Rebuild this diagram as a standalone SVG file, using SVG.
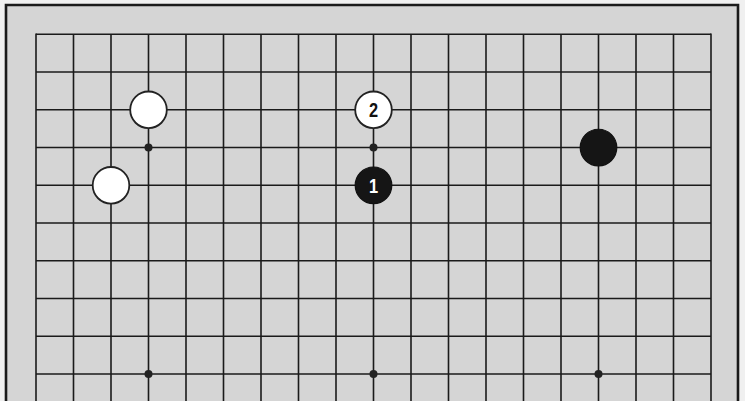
<svg xmlns="http://www.w3.org/2000/svg" width="745" height="401" viewBox="0 0 745 401">
<style>
.grid line{stroke:#1a1a1a;stroke-width:1.6}
.frame{fill:#d5d5d5;stroke:#1a1a1a;stroke-width:2.6}
.star{fill:#222}
.w{fill:#fff;stroke:#222;stroke-width:1.8}
.b{fill:#151515;stroke:#111;stroke-width:1.2}
.num{font-family:"Liberation Sans",Arial,sans-serif;font-weight:bold;font-size:20px;text-anchor:middle}
</style>
<rect x="0" y="0" width="745" height="401" fill="#f0f0f0"/>
<path class="frame" d="M6,402 V5 H738 V402"/>
<g id="board" class="grid">
<line x1="36" y1="34.3" x2="711" y2="34.3"/>
<line x1="36" y1="72.05" x2="711" y2="72.05"/>
<line x1="36" y1="109.8" x2="711" y2="109.8"/>
<line x1="36" y1="147.55" x2="711" y2="147.55"/>
<line x1="36" y1="185.3" x2="711" y2="185.3"/>
<line x1="36" y1="223.05" x2="711" y2="223.05"/>
<line x1="36" y1="260.8" x2="711" y2="260.8"/>
<line x1="36" y1="298.55" x2="711" y2="298.55"/>
<line x1="36" y1="336.3" x2="711" y2="336.3"/>
<line x1="36" y1="374.05" x2="711" y2="374.05"/>
<line x1="36" y1="33.5" x2="36" y2="402"/>
<line x1="73.5" y1="34.3" x2="73.5" y2="402"/>
<line x1="111" y1="34.3" x2="111" y2="402"/>
<line x1="148.5" y1="34.3" x2="148.5" y2="402"/>
<line x1="186" y1="34.3" x2="186" y2="402"/>
<line x1="223.5" y1="34.3" x2="223.5" y2="402"/>
<line x1="261" y1="34.3" x2="261" y2="402"/>
<line x1="298.5" y1="34.3" x2="298.5" y2="402"/>
<line x1="336" y1="34.3" x2="336" y2="402"/>
<line x1="373.5" y1="34.3" x2="373.5" y2="402"/>
<line x1="411" y1="34.3" x2="411" y2="402"/>
<line x1="448.5" y1="34.3" x2="448.5" y2="402"/>
<line x1="486" y1="34.3" x2="486" y2="402"/>
<line x1="523.5" y1="34.3" x2="523.5" y2="402"/>
<line x1="561" y1="34.3" x2="561" y2="402"/>
<line x1="598.5" y1="34.3" x2="598.5" y2="402"/>
<line x1="636" y1="34.3" x2="636" y2="402"/>
<line x1="673.5" y1="34.3" x2="673.5" y2="402"/>
<line x1="711" y1="33.5" x2="711" y2="402"/>
</g>
<g id="stars">
<circle class="star" cx="148.5" cy="147.55" r="4"/>
<circle class="star" cx="373.5" cy="147.55" r="4"/>
<circle class="star" cx="598.5" cy="147.55" r="4"/>
<circle class="star" cx="148.5" cy="374.05" r="4"/>
<circle class="star" cx="373.5" cy="374.05" r="4"/>
<circle class="star" cx="598.5" cy="374.05" r="4"/>
</g>
<g id="white1"><circle class="w" cx="148.5" cy="109.8" r="18.3"/></g>
<g id="white2"><circle class="w" cx="111" cy="185.3" r="18.3"/></g>
<g id="white3"><circle class="w" cx="373.5" cy="109.8" r="18.3"/><text class="num" x="373.5" y="117.3" fill="#111" transform="translate(373.5 0) scale(0.82 1) translate(-373.5 0)">2</text></g>
<g id="black1"><circle class="b" cx="373.5" cy="185.3" r="18.3"/><text class="num" x="373.5" y="193" fill="#fff" transform="translate(373.5 0) scale(0.82 1) translate(-373.5 0)">1</text></g>
<g id="black2"><circle class="b" cx="598.5" cy="147.55" r="18.3"/></g>
</svg>
